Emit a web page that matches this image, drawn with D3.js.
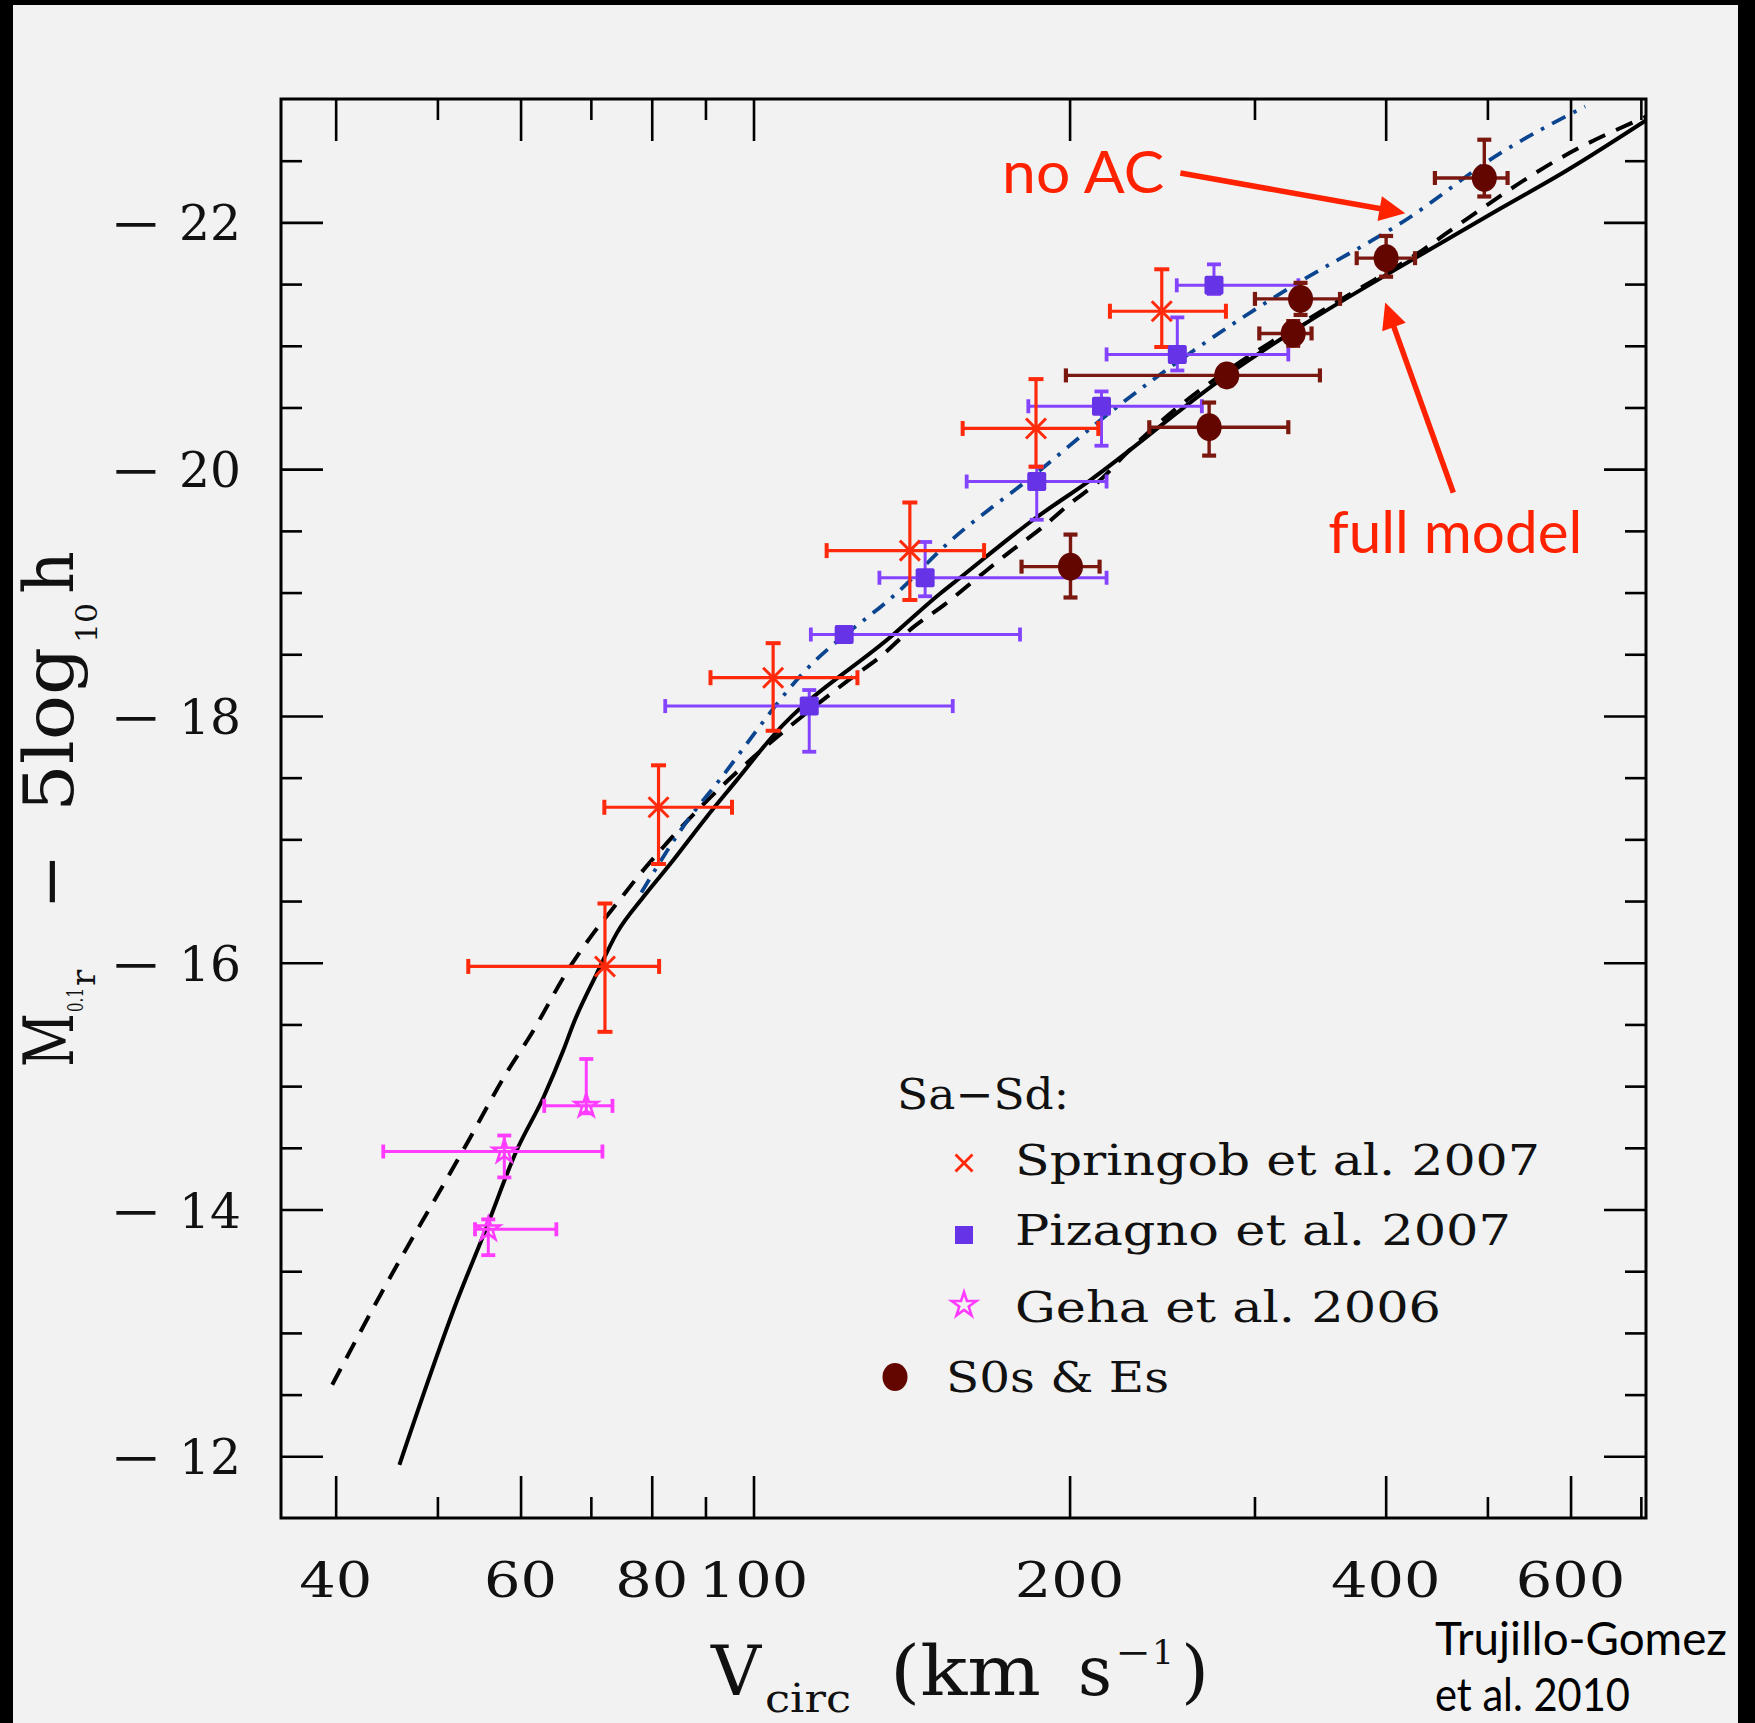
<!DOCTYPE html>
<html>
<head>
<meta charset="utf-8">
<script src="https://cdn.jsdelivr.net/npm/d3@7"></script>
<style>
  html, body { margin: 0; padding: 0; background: #000; }
  svg { display: block; }
</style>
</head>
<body>
<svg id="chart" width="1755" height="1723"></svg>
<script>
// ---------------- data ----------------
// Model curves: circular velocity (km/s) vs. absolute magnitude
const fullModelV = [46.0, 52.2, 55.6, 59.5, 63.1, 65.9, 67.4, 70.9, 74.1, 78.5, 83.3, 90.2, 96.4, 104.4, 135.9, 150.5, 157.3, 184.7, 209.2, 282.3, 333.9, 412.8, 514.0, 595.0, 709.0];
const fullModelM = [-11.93, -13.26, -13.84, -14.48, -14.91, -15.29, -15.51, -15.91, -16.24, -16.53, -16.80, -17.18, -17.48, -17.84, -18.66, -18.99, -19.12, -19.59, -19.91, -20.76, -21.17, -21.64, -22.11, -22.42, -22.83];

const dashedModelV = [39.7, 44.2, 52.9, 58.4, 61.2, 66.9, 70.4, 74.1, 78.0, 82.1, 123.6, 132.5, 141.5, 151.9, 162.9, 174.2, 187.2, 200.2, 213.8, 226.6, 348.9, 375.4, 434.5, 470.9, 595.0, 709.0];
const dashedModelM = [-12.58, -13.32, -14.48, -15.13, -15.40, -15.97, -16.24, -16.48, -16.72, -16.94, -18.30, -18.49, -18.71, -18.90, -19.11, -19.31, -19.51, -19.72, -19.91, -20.13, -21.29, -21.45, -21.78, -21.99, -22.55, -22.86];

const noAcV = [78.2, 87.0, 92.2, 110.7, 139.9, 150.5, 186.1, 220.1, 262.4, 331.5, 389.3, 412.8, 514.0, 619.5];
const noAcM = [-16.57, -17.18, -17.45, -18.32, -19.07, -19.34, -19.97, -20.48, -20.96, -21.52, -21.86, -21.99, -22.56, -22.94];

// Springob et al. 2007
const springobV    = [72.2, 81.2, 104.4, 140.9, 185.8, 244.8];
const springobM    = [-15.97, -17.26, -18.31, -19.34, -20.33, -21.28];
const springobVlo  = [53.5, 72.1, 91.0, 117.4, 158.2, 218.5];
const springobVhi  = [81.3, 95.4, 125.6, 165.8, 213.0, 281.8];
const springobMbr  = [-16.48, -17.60, -18.59, -19.73, -20.73, -21.62];
const springobMft  = [-15.44, -16.80, -17.88, -18.94, -20.02, -20.99];

// Pizagno et al. 2007
const pizagnoV     = [113.0, 122.0, 145.7, 186.1, 214.5, 253.3, 274.5];
const pizagnoM     = [-18.08, -18.66, -19.12, -19.90, -20.51, -20.93, -21.49];
const pizagnoVlo   = [82.4, 113.4, 131.8, 159.6, 182.7, 216.9, 253.0];
const pizagnoVhi   = [154.8, 179.4, 216.9, 216.9, 267.3, 323.1, 330.3];
const pizagnoMbr   = [-18.21, -18.70, -19.41, -20.02, -20.63, -21.23, -21.66];
const pizagnoMft   = [-17.71, -18.62, -18.97, -19.59, -20.19, -20.80, -21.42];

// Geha et al. 2006
const gehaV        = [55.9, 57.9, 69.3];
const gehaM        = [-13.84, -14.47, -14.84];
const gehaVlo      = [54.3, 44.4, 63.2];
const gehaVhi      = [64.9, 71.8, 73.4];
const gehaMbr      = [-13.92, -14.60, -15.22];
const gehaMft      = [-13.63, -14.26, -14.78];

// S0s & Es
const earlyV       = [200.4, 271.6, 282.3, 326.6, 331.9, 400.4, 496.6];
const earlyM       = [-19.21, -20.34, -20.76, -21.10, -21.38, -21.71, -22.36];
const earlyVlo     = [180.0, 238.2, 198.4, 303.2, 300.3, 375.4, 445.6];
const earlyVhi     = [213.6, 323.1, 346.3, 340.0, 361.9, 426.6, 522.6];
const earlyMbr     = [-19.47, -20.54, -20.84, -21.20, -21.51, -21.89, -22.67];
const earlyMft     = [-18.96, -20.11, -20.68, -21.00, -21.25, -21.56, -22.21];

// Axis ticks and labels
const xMajor = [40, 60, 80, 100, 200, 400, 600];
const xMinor = [50, 70, 90, 300, 500, 700];
const xTickLabels = ["40", "60", "80", "100", "200", "400", "600"];
const yMajor = [-12, -14, -16, -18, -20, -22];
const yMinor = [-12.5, -13, -13.5, -14.5, -15, -15.5, -16.5, -17, -17.5, -18.5, -19, -19.5, -20.5, -21, -21.5, -22.5];
const yTickLabels = ["−12", "−14", "−16", "−18", "−20", "−22"];

const legendTitle = "Sa−Sd:";
const legendLabels = ["Springob et al. 2007", "Pizagno et al. 2007", "Geha et al. 2006", "S0s & Es"];

// ---------------- layout ----------------
const W = 1755, H = 1723;
const plot = { left: 281, right: 1646, top: 99, bottom: 1518 };
const SERIF = "'DejaVu Serif', serif";
const SANS = "Lato, 'Open Sans', sans-serif";

const colSpringob = "#ff2a0c";
const colPizagno = "#6633e6";
const colPizagnoBar = "#8444ff";
const colGeha = "#ff3cff";
const colEarly = "#640600";
const colEarlyBar = "#7a1810";
const colNoAc = "#0b4590";
const colNote = "#ff2200";

const x = d3.scaleLog().domain([Math.pow(10, 1.55), Math.pow(10, 2.85)]).range([plot.left, plot.right]);
const y = d3.scaleLinear().domain([-11.5, -23]).range([plot.bottom, plot.top]);

const svg = d3.select("#chart");

// outer black border with light panel
svg.append("rect").attr("width", W).attr("height", H).attr("fill", "#000");
svg.append("rect").attr("x", 13).attr("y", 5).attr("width", 1738 - 13).attr("height", H - 5).attr("fill", "#f2f2f2");

svg.append("defs").append("clipPath").attr("id", "plotClip")
  .append("rect").attr("x", plot.left).attr("y", plot.top)
  .attr("width", plot.right - plot.left).attr("height", plot.bottom - plot.top);

// ---------------- axes (ticks on all four sides, pointing inward) ----------------
function tickRow(axisFn, scale, values, size, transform) {
  const g = svg.append("g").attr("transform", transform)
    .call(axisFn(scale).tickValues(values).tickSizeInner(size).tickSizeOuter(0).tickFormat(""));
  g.select(".domain").remove();
  g.selectAll(".tick line").attr("stroke", "#000").attr("stroke-width", 2.6);
}
tickRow(d3.axisTop, x, xMajor, 42, `translate(0,${plot.bottom})`);
tickRow(d3.axisTop, x, xMinor, 21, `translate(0,${plot.bottom})`);
tickRow(d3.axisBottom, x, xMajor, 42, `translate(0,${plot.top})`);
tickRow(d3.axisBottom, x, xMinor, 21, `translate(0,${plot.top})`);
tickRow(d3.axisRight, y, yMajor, 42, `translate(${plot.left},0)`);
tickRow(d3.axisRight, y, yMinor, 21, `translate(${plot.left},0)`);
tickRow(d3.axisLeft, y, yMajor, 42, `translate(${plot.right},0)`);
tickRow(d3.axisLeft, y, yMinor, 21, `translate(${plot.right},0)`);

svg.append("rect")
  .attr("x", plot.left).attr("y", plot.top)
  .attr("width", plot.right - plot.left).attr("height", plot.bottom - plot.top)
  .attr("fill", "none").attr("stroke", "#000").attr("stroke-width", 3);

// tick labels
xMajor.forEach((v, i) => {
  const s = xTickLabels[i];
  svg.append("text")
    .attr("x", x(v)).attr("y", 1597)
    .attr("text-anchor", "middle")
    .attr("font-family", SERIF).attr("font-size", 48)
    .attr("textLength", 36.5 * s.length).attr("lengthAdjust", "spacingAndGlyphs")
    .attr("fill", "#111")
    .text(s);
});
yMajor.forEach((m, i) => {
  const s = yTickLabels[i];
  const base = y(m) + 18;
  // long math minus, widened horizontally
  svg.append("text")
    .attr("transform", `translate(162,${base}) scale(1.3,1)`)
    .attr("text-anchor", "end")
    .attr("font-family", SERIF).attr("font-size", 48)
    .attr("fill", "#111").text(s.slice(0, 1));
  svg.append("text")
    .attr("x", 241).attr("y", base).attr("text-anchor", "end")
    .attr("font-family", SERIF).attr("font-size", 48)
    .attr("textLength", 62).attr("lengthAdjust", "spacingAndGlyphs")
    .attr("fill", "#111").text(s.slice(1));
});

// ---------------- axis titles ----------------
function piece(parent, str, x0, x1, base, size) {
  return parent.append("text")
    .attr("x", x0).attr("y", base)
    .attr("font-family", SERIF).attr("font-size", size)
    .attr("textLength", x1 - x0).attr("lengthAdjust", "spacingAndGlyphs")
    .attr("fill", "#111").text(str);
}
// x title: V_circ (km s^-1)
const xt = svg.append("g");
piece(xt, "V", 711, 761, 1695, 70);
piece(xt, "circ", 765, 851, 1712, 40);
piece(xt, "(km", 890, 1041, 1695, 70);
piece(xt, "s", 1078, 1112, 1695, 70);
xt.append("text")
  .attr("transform", "translate(1133,1664) scale(1.25,1)")
  .attr("text-anchor", "middle")
  .attr("font-family", SERIF).attr("font-size", 34).attr("fill", "#111").text("−");
piece(xt, "1", 1152, 1174, 1664, 34);
piece(xt, ")", 1181, 1209, 1695, 70);

// y title: M_{0.1r} − 5 log_10 h, rotated; local x = -screenY
const yt = svg.append("g").attr("transform", "rotate(-90)");
piece(yt, "M", -1067, -1013, 73, 70);
piece(yt, "0.1", -1012, -988, 83, 22);
yt.append("text").attr("x", -986).attr("y", 95)
  .attr("font-family", SERIF).attr("font-size", 34).attr("fill", "#111").text("r");
yt.append("text").attr("x", -881.5).attr("y", 73).attr("text-anchor", "middle")
  .attr("font-family", SERIF).attr("font-size", 66).attr("fill", "#111").text("−");
piece(yt, "5log", -812, -647, 73, 70);
piece(yt, "10", -643, -603, 97, 30);
piece(yt, "h", -594, -551, 73, 70);

// ---------------- model curves ----------------
const curveG = svg.append("g").attr("clip-path", "url(#plotClip)");
const line = d3.line().x(d => x(d[0])).y(d => y(d[1])).curve(d3.curveMonotoneX);

curveG.append("path")
  .datum(dashedModelV.map((v, i) => [v, dashedModelM[i]]))
  .attr("d", line).attr("fill", "none").attr("stroke", "#000")
  .attr("stroke-width", 4).attr("stroke-dasharray", "18,12");

curveG.append("path")
  .datum(noAcV.map((v, i) => [v, noAcM[i]]))
  .attr("d", line).attr("fill", "none").attr("stroke", colNoAc)
  .attr("stroke-width", 3.8).attr("stroke-dasharray", "15,9,3.5,9");

curveG.append("path")
  .datum(fullModelV.map((v, i) => [v, fullModelM[i]]))
  .attr("d", line).attr("fill", "none").attr("stroke", "#000")
  .attr("stroke-width", 4);

// ---------------- error bars ----------------
function errorBars(V, M, Vlo, Vhi, Mbr, Mft, color, cap, width) {
  const g = svg.append("g").attr("stroke", color).attr("fill", "none");
  V.forEach((v, i) => {
    const cx = x(v), cy = y(M[i]);
    const xl = x(Vlo[i]), xh = x(Vhi[i]);
    const yb = y(Mbr[i]), yf = y(Mft[i]);
    g.append("line").attr("x1", xl).attr("x2", xh).attr("y1", cy).attr("y2", cy).attr("stroke-width", width);
    g.append("line").attr("x1", cx).attr("x2", cx).attr("y1", yb).attr("y2", yf).attr("stroke-width", width);
    [xl, xh].forEach(px => g.append("line").attr("x1", px).attr("x2", px)
      .attr("y1", cy - cap).attr("y2", cy + cap).attr("stroke-width", width + 0.8));
    [yb, yf].forEach(py => g.append("line").attr("x1", cx - cap).attr("x2", cx + cap)
      .attr("y1", py).attr("y2", py).attr("stroke-width", width + 0.8));
  });
}
errorBars(gehaV, gehaM, gehaVlo, gehaVhi, gehaMbr, gehaMft, colGeha, 7, 3);
errorBars(pizagnoV, pizagnoM, pizagnoVlo, pizagnoVhi, pizagnoMbr, pizagnoMft, colPizagnoBar, 7, 3);
errorBars(springobV, springobM, springobVlo, springobVhi, springobMbr, springobMft, colSpringob, 7.5, 3.2);
errorBars(earlyV, earlyM, earlyVlo, earlyVhi, earlyMbr, earlyMft, colEarlyBar, 7, 3.4);

// ---------------- markers ----------------
function cross(g, cx, cy, r, color, w) {
  g.append("line").attr("x1", cx - r).attr("y1", cy - r).attr("x2", cx + r).attr("y2", cy + r)
    .attr("stroke", color).attr("stroke-width", w);
  g.append("line").attr("x1", cx - r).attr("y1", cy + r).attr("x2", cx + r).attr("y2", cy - r)
    .attr("stroke", color).attr("stroke-width", w);
}
const starPath = d3.symbol(d3.symbolStar, 165)();
const mk = svg.append("g");

springobV.forEach((v, i) => cross(mk, x(v), y(springobM[i]), 10, colSpringob, 3));
pizagnoV.forEach((v, i) => mk.append("rect")
  .attr("x", x(v) - 9.5).attr("y", y(pizagnoM[i]) - 9.5).attr("width", 19).attr("height", 19)
  .attr("rx", 2).attr("fill", colPizagno));
gehaV.forEach((v, i) => mk.append("path")
  .attr("d", starPath).attr("transform", `translate(${x(v)},${y(gehaM[i])})`)
  .attr("fill", "none").attr("stroke", colGeha).attr("stroke-width", 2.6));
earlyV.forEach((v, i) => mk.append("ellipse")
  .attr("cx", x(v)).attr("cy", y(earlyM[i])).attr("rx", 12.5).attr("ry", 14)
  .attr("fill", colEarly));

// ---------------- legend ----------------
const lg = svg.append("g");
lg.append("text").attr("x", 897).attr("y", 1109)
  .attr("font-family", SERIF).attr("font-size", 42)
  .attr("textLength", 172).attr("lengthAdjust", "spacingAndGlyphs")
  .attr("fill", "#111").text(legendTitle);
const legendX = [1015, 1015, 1015, 946];
const legendRight = [1540, 1511, 1441, 1169];
const legendBase = [1175, 1245, 1322, 1392];
legendLabels.forEach((s, i) => {
  lg.append("text").attr("x", legendX[i]).attr("y", legendBase[i])
    .attr("font-family", SERIF).attr("font-size", 42)
    .attr("textLength", legendRight[i] - legendX[i]).attr("lengthAdjust", "spacingAndGlyphs")
    .attr("fill", "#111").text(s);
});
cross(lg, 964, 1163, 8.5, colSpringob, 2.8);
lg.append("rect").attr("x", 955).attr("y", 1226).attr("width", 18).attr("height", 18).attr("fill", colPizagno);
lg.append("path").attr("d", d3.symbol(d3.symbolStar, 190)())
  .attr("transform", "translate(964,1305)")
  .attr("fill", "none").attr("stroke", colGeha).attr("stroke-width", 2.6);
lg.append("ellipse").attr("cx", 895).attr("cy", 1377).attr("rx", 12.5).attr("ry", 14).attr("fill", colEarly);

// ---------------- annotations ----------------
function arrow(v0, m0, v1, m1) {
  const p0 = [x(v0), y(m0)], p1 = [x(v1), y(m1)];
  const dx = p1[0] - p0[0], dy = p1[1] - p0[1];
  const len = Math.hypot(dx, dy);
  const ux = dx / len, uy = dy / len;
  const headLen = 26, headHalf = 12.5;
  const bx = p1[0] - ux * headLen, by = p1[1] - uy * headLen;
  svg.append("line")
    .attr("x1", p0[0]).attr("y1", p0[1]).attr("x2", bx + ux * 4).attr("y2", by + uy * 4)
    .attr("stroke", colNote).attr("stroke-width", 5.5);
  svg.append("path")
    .attr("d", `M${p1[0]},${p1[1]} L${bx - uy * headHalf},${by + ux * headHalf} L${bx + uy * headHalf},${by - ux * headHalf} Z`)
    .attr("fill", colNote);
}
arrow(255, -22.40, 417.6, -22.075);
arrow(464, -19.81, 399.6, -21.35);

svg.append("text").attr("x", x(172.5)).attr("y", y(-22.24))
  .attr("font-family", SANS).attr("font-size", 58)
  .attr("textLength", 162).attr("lengthAdjust", "spacingAndGlyphs")
  .attr("fill", colNote).text("no AC");
svg.append("text").attr("x", x(352.7)).attr("y", y(-19.32))
  .attr("font-family", SANS).attr("font-size", 58)
  .attr("textLength", 254).attr("lengthAdjust", "spacingAndGlyphs")
  .attr("fill", colNote).text("full model");

// credit
svg.append("text").attr("x", 1435).attr("y", 1655)
  .attr("font-family", SANS).attr("font-size", 46)
  .attr("textLength", 292).attr("lengthAdjust", "spacingAndGlyphs")
  .attr("fill", "#000").text("Trujillo-Gomez");
svg.append("text").attr("x", 1435).attr("y", 1711)
  .attr("font-family", SANS).attr("font-size", 46)
  .attr("textLength", 195).attr("lengthAdjust", "spacingAndGlyphs")
  .attr("fill", "#000").text("et al. 2010");
</script>
</body>
</html>
